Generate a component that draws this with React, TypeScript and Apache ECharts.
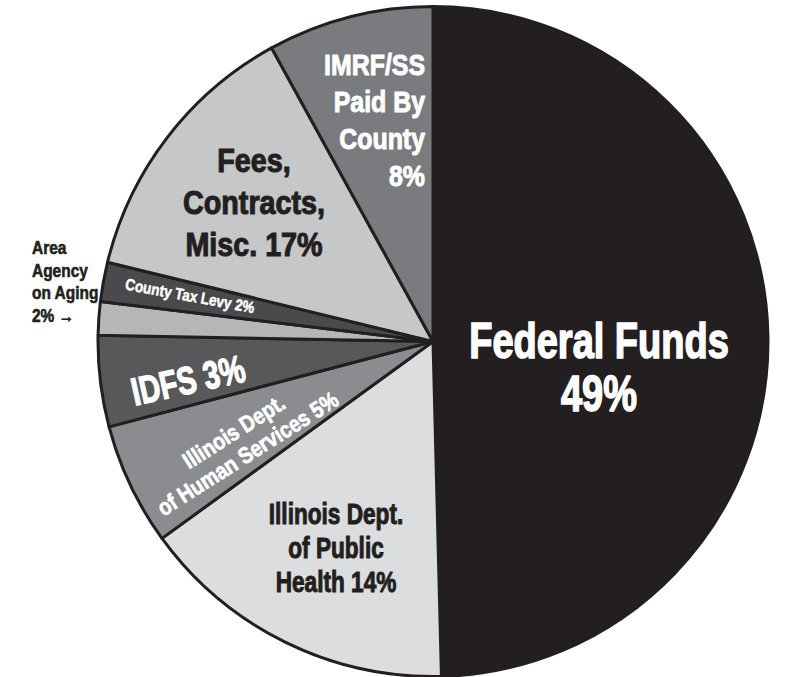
import React, { useEffect, useRef } from "react";
import * as echarts from "echarts";

// ---- data ----
const categories = [
  "Federal Funds",
  "Illinois Dept. of Public Health",
  "Illinois Dept. of Human Services",
  "IDFS",
  "Area Agency on Aging",
  "County Tax Levy",
  "Fees, Contracts, Misc.",
  "IMRF/SS Paid By County",
];
// slice sizes as drawn (share of the circle, %)
const values = [49.6, 15.4, 5.9, 4.4, 1.6, 1.9, 13.2, 8.0];
const labelTexts = [
  "Federal Funds\n49%",
  "Illinois Dept.\nof Public\nHealth 14%",
  "Illinois Dept.\nof Human Services 5%",
  "IDFS 3%",
  "Area\nAgency\non Aging\n2% \u2192",
  "County Tax Levy 2%",
  "Fees,\nContracts,\nMisc. 17%",
  "IMRF/SS\nPaid By\nCounty\n8%",
];

// ---- styles / layout ----
const colors = ["#231f20", "#dcdddf", "#8b8c8f", "#58585a", "#b5b6b8", "#4a4a4c", "#c6c7c9", "#7a7b7e"];
const labelLayout = [
  { x: 599, y: 367, size: 50, lh: 53, sx: 0.76, rot: 0, fill: "#ffffff", align: "center", sw: 1.6 },
  { x: 336, y: 548, size: 29, lh: 34, sx: 0.78, rot: 0, fill: "#231f20", align: "center", sw: 1.0 },
  { x: 241, y: 443, size: 23, lh: 26, sx: 0.85, rot: 32.5, fill: "#ffffff", align: "center", sw: 0.7 },
  { x: 188, y: 380, size: 39, lh: 40, sx: 0.74, rot: 12.5, fill: "#ffffff", align: "center", sw: 1.3 },
  { x: 32, y: 282, size: 18, lh: 22.7, sx: 0.86, rot: 0, fill: "#231f20", align: "left", sw: 0.6 },
  { x: 190, y: 296, size: 16, lh: 18, sx: 0.85, rot: -10.5, fill: "#ffffff", align: "center", sw: 0.5 },
  { x: 254, y: 203, size: 33, lh: 42, sx: 0.87, rot: 0, fill: "#231f20", align: "center", sw: 1.1 },
  { x: 425, y: 120, size: 30, lh: 37.2, sx: 0.83, rot: 0, fill: "#ffffff", align: "right", sw: 1.0 },
];

export default function App() {
  const ref = useRef<HTMLDivElement>(null);

  useEffect(() => {
    if (!ref.current) return;
    const chart = echarts.init(ref.current, undefined, { renderer: "svg" });

    const textElements = labelTexts.map((t, i) => {
      const l = labelLayout[i];
      return {
        type: "text",
        x: l.x,
        y: l.y,
        rotation: (l.rot * Math.PI) / 180,
        scaleX: l.sx,
        scaleY: 1,
        z: 100,
        silent: true,
        style: {
          text: t,
          fill: l.fill,
          stroke: l.fill,
          lineWidth: l.sw,
          fontFamily: "'Liberation Sans', Arial, sans-serif",
          fontWeight: "bold",
          fontSize: l.size,
          lineHeight: l.lh,
          align: l.align,
          verticalAlign: "middle",
        },
      };
    });

    chart.setOption({
      animation: false,
      backgroundColor: "#ffffff",
      series: [
        {
          type: "pie",
          center: [433, 341.5],
          radius: 335,
          startAngle: 90,
          clockwise: true,
          avoidLabelOverlap: false,
          silent: true,
          label: { show: false },
          labelLine: { show: false },
          emphasis: { disabled: true },
          itemStyle: { borderColor: "#231f20", borderWidth: 3 },
          data: categories.map((name, i) => ({
            name,
            value: values[i],
            itemStyle: { color: colors[i] },
          })),
        },
      ],
      graphic: { z: 100, elements: textElements },
    });

    return () => chart.dispose();
  }, []);

  return (
    <div
      ref={ref}
      style={{ position: "fixed", left: 0, top: 0, width: 785, height: 677, background: "#fff" }}
    />
  );
}
